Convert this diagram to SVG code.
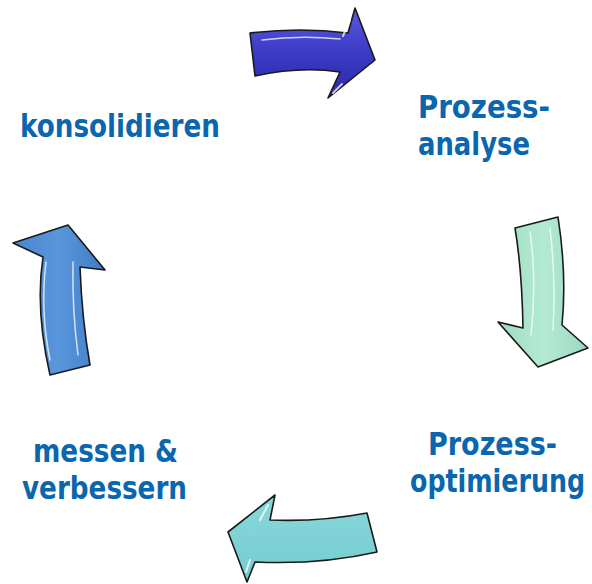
<svg xmlns="http://www.w3.org/2000/svg" width="592" height="584" viewBox="0 0 592 584">
  <style>
    .lbl { font-family: "DejaVu Sans Condensed", "DejaVu Sans", "Liberation Sans", sans-serif; font-weight: bold; font-size: 32px; fill: #0a66ae; font-stretch: condensed; }
    .arrow { stroke: #1a1a1a; stroke-width: 1.6; stroke-linejoin: round; }
    .gloss { fill: none; stroke: #ffffff; stroke-linecap: round; opacity: 0.75; }
  </style>
  <defs>
    <linearGradient id="gBlue" x1="0" y1="0" x2="0" y2="1">
      <stop offset="0" stop-color="#5a5ae0"/>
      <stop offset="0.5" stop-color="#3a3ac6"/>
      <stop offset="1" stop-color="#2a2aa8"/>
    </linearGradient>
    <linearGradient id="gGreen" x1="0" y1="0" x2="1" y2="0">
      <stop offset="0" stop-color="#9edcc2"/>
      <stop offset="0.5" stop-color="#b4ead3"/>
      <stop offset="1" stop-color="#9adabf"/>
    </linearGradient>
    <linearGradient id="gCyan" x1="0" y1="0" x2="0" y2="1">
      <stop offset="0" stop-color="#88d8db"/>
      <stop offset="1" stop-color="#74ccd0"/>
    </linearGradient>
    <linearGradient id="gMid" x1="0" y1="0" x2="1" y2="0">
      <stop offset="0" stop-color="#4a86cf"/>
      <stop offset="0.5" stop-color="#5a96dc"/>
      <stop offset="1" stop-color="#3f7cc4"/>
    </linearGradient>
  </defs>

  <g id="connectors">
    <!-- top: konsolidieren -> Prozessanalyse -->
    <g id="arrow-top">
      <path class="arrow" fill="url(#gBlue)" d="M250,33 Q300,27 348,33 L355,8 L375,60 L328,98 L340,72 Q300,66 255,76 Z"/>
      <path class="gloss" stroke-width="1.5" d="M262,40 Q300,35 340,39"/>
      <path class="gloss" stroke-width="2" d="M350,20 L343,36"/>
      <path class="gloss" stroke-width="2" d="M342,84 L333,93"/>
    </g>
    <!-- right: Prozessanalyse -> Prozessoptimierung -->
    <g id="arrow-right">
      <path class="arrow" fill="url(#gGreen)" d="M515,228 L558,217 Q567,275 562,325 L588,348 L538,367 L498,322 L523,328 Q522,270 515,228 Z"/>
      <path class="gloss" stroke-width="1.5" d="M530,232 Q537,280 531,335"/>
      <path class="gloss" stroke-width="1.5" d="M550,228 Q556,280 553,330"/>
    </g>
    <!-- bottom: Prozessoptimierung -> messen & verbessern -->
    <g id="arrow-bottom">
      <path class="arrow" fill="url(#gCyan)" d="M228,532 L275,495 L270,520 Q320,522 367,513 L377,552 Q320,565 255,562 L247,582 Z"/>
      <path class="gloss" stroke-width="2" d="M268,505 L260,520"/>
      <path class="gloss" stroke-width="2" d="M250,560 L246,572"/>
    </g>
    <!-- left: messen & verbessern -> konsolidieren -->
    <g id="arrow-left">
      <path class="arrow" fill="url(#gMid)" d="M13,243 L68,225 L105,270 L80,267 Q82,320 90,365 L50,375 Q35,310 43,257 Z"/>
      <path class="gloss" stroke-width="1.5" d="M46,262 Q40,310 50,360"/>
      <path class="gloss" stroke-width="1.5" d="M73,262 Q72,310 78,355"/>
    </g>
  </g>

  <g id="node-konsolidieren">
    <text class="lbl" x="20" y="137" textLength="200" lengthAdjust="spacingAndGlyphs">konsolidieren</text>
  </g>
  <g id="node-prozessanalyse">
    <text class="lbl" x="418" y="118" textLength="132" lengthAdjust="spacingAndGlyphs">Prozess-</text>
    <text class="lbl" x="418" y="155" textLength="112" lengthAdjust="spacingAndGlyphs">analyse</text>
  </g>
  <g id="node-prozessoptimierung">
    <text class="lbl" x="428" y="455" textLength="129" lengthAdjust="spacingAndGlyphs">Prozess-</text>
    <text class="lbl" transform="translate(410,492) scale(0.884,1)" x="0" y="0" textLength="198" lengthAdjust="spacingAndGlyphs">optimierung</text>
  </g>
  <g id="node-messen">
    <text class="lbl" x="33" y="462" textLength="145" lengthAdjust="spacingAndGlyphs">messen &amp;</text>
    <text class="lbl" x="22" y="499" textLength="165" lengthAdjust="spacingAndGlyphs">verbessern</text>
  </g>
</svg>
